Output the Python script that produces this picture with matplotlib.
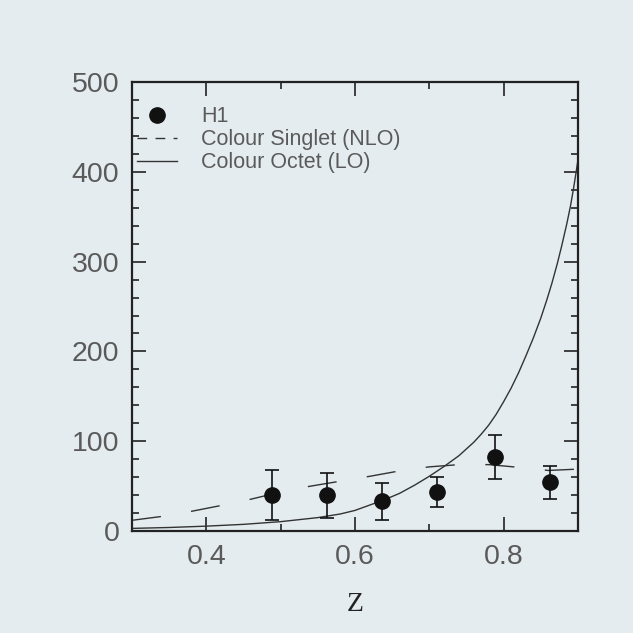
"""
H1 data vs colour singlet / octet predictions as a function of z
"""
import matplotlib
matplotlib.use("Agg")
import matplotlib.pyplot as plt
from matplotlib.lines import Line2D
from matplotlib.ticker import MultipleLocator, FixedLocator

# H1 measurement
z_h1 = [0.488, 0.563, 0.637, 0.711, 0.788, 0.863]
y_h1 = [40, 40, 33, 43, 82, 55]
err_up = [28, 25, 20, 17, 25, 18]
err_dn = [28, 25, 21, 16, 24, 19]

# colour singlet (NLO), dashed
z_cs = [0.30, 0.34, 0.38, 0.42, 0.46, 0.50, 0.54, 0.58, 0.62, 0.66,
        0.70, 0.74, 0.78, 0.82, 0.86, 0.90]
y_cs = [12, 16.3, 22, 28.5, 35.5, 43.5, 50, 55.5, 61, 67,
        71.5, 74, 74, 71, 67.5, 69]

# colour octet (LO), solid
z_co = [0.30, 0.35, 0.40, 0.45, 0.50, 0.55, 0.58, 0.60, 0.62, 0.64,
        0.66, 0.68, 0.70, 0.72, 0.74, 0.76, 0.77, 0.78, 0.79, 0.80,
        0.81, 0.82, 0.83, 0.84, 0.85, 0.858, 0.865, 0.872, 0.878, 0.885,
        0.89, 0.894, 0.898, 0.90]
y_co = [3, 4, 5.5, 7.5, 10.5, 15, 19, 23, 29, 35,
        42, 51, 61, 72, 84, 99, 108, 118, 130, 144,
        159, 176, 195, 215, 237, 257, 276, 297, 317, 342,
        362, 381, 402, 413]

bg = "#e4ecef"
fig = plt.figure(figsize=(6.33, 6.33), dpi=100, facecolor=bg)
ax = fig.add_axes([0.2085, 0.161, 0.7045, 0.7095], facecolor=bg)

ax.plot(z_co, y_co, color="#333333", lw=1.0)
ax.plot(z_cs, y_cs, color="#333333", lw=1.0, dashes=(21, 22))
ax.errorbar(z_h1, y_h1, yerr=[err_dn, err_up], fmt="o", color="#111111",
            ms=11, elinewidth=1.2, capsize=5, capthick=1.2)

ax.set_xlim(0.3, 0.9)
ax.set_ylim(0, 500)
ax.xaxis.set_major_locator(FixedLocator([0.4, 0.6, 0.8]))
ax.xaxis.set_minor_locator(FixedLocator([0.5, 0.7]))
ax.yaxis.set_major_locator(MultipleLocator(100))
ax.yaxis.set_minor_locator(MultipleLocator(20))
ax.tick_params(which="both", direction="in", top=True, right=True,
               color="#222222", width=1.2)
ax.tick_params(which="major", length=10, pad=9, labelsize=20.5,
               labelcolor="#5a5a5a")
ax.tick_params(which="minor", length=5)
ax.set_xticklabels(["0.4", "0.6", "0.8"])
for lab in ax.get_xticklabels() + ax.get_yticklabels():
    lab.set_family("Liberation Sans")
for s in ax.spines.values():
    s.set_linewidth(1.6)
    s.set_color("#222222")

ax.set_xlabel("Z", fontsize=20, family="Liberation Serif", color="#222222",
              labelpad=16)

# legend with simple proxy handles, as in the original
handles = [
    Line2D([], [], ls="none", marker="o", ms=11, color="#111111"),
    Line2D([], [], color="#333333", lw=1.0, dashes=(7, 6)),
    Line2D([], [], color="#333333", lw=1.0),
]
labels = ["H1", "Colour Singlet (NLO)", "Colour Octet (LO)"]
leg = ax.legend(handles, labels, loc="upper left", frameon=False,
                prop={"family": "Liberation Sans", "size": 15.5},
                handlelength=1.85, handletextpad=1.15, labelspacing=0.1,
                borderaxespad=0.2, bbox_to_anchor=(-0.018, 0.975))
for t in leg.get_texts():
    t.set_color("#5a5a5a")

fig.savefig("out.png", dpi=100, facecolor=bg)
